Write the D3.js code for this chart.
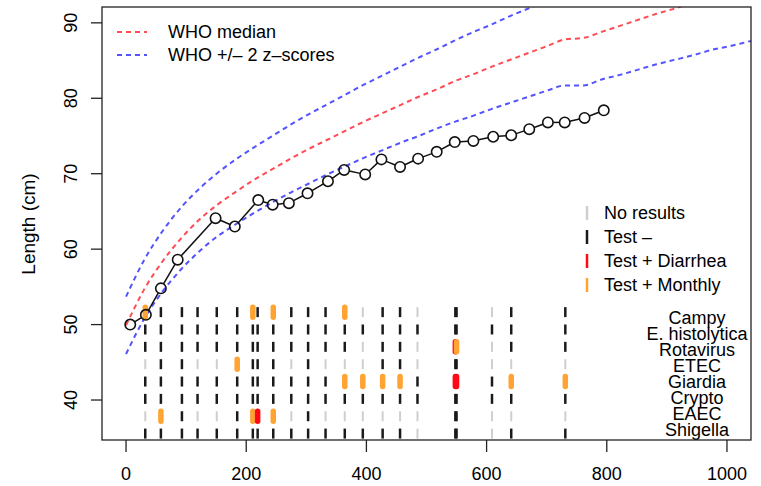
<!DOCTYPE html>
<html>
<head>
<meta charset="utf-8">
<script src="https://cdn.jsdelivr.net/npm/d3@7"></script>
<style>
body{margin:0;background:#fff}
text{font-family:"Liberation Sans",Arial,Helvetica,sans-serif;fill:#000}
</style>
</head>
<body>
<div id="stage"></div>
<script>

// child's length measurements (age in days, length in cm)
var childDays=[7,33,58,86,149,181,220,244,271,302,336,363,398,425,456,486,517,547,578,611,641,671,702,730,763,795];
var childLength=[50.0,51.3,54.8,58.6,64.1,63.0,66.5,65.9,66.1,67.4,69.0,70.5,69.9,71.9,70.9,72.0,72.9,74.2,74.35,74.9,75.1,75.9,76.8,76.8,77.4,78.4];

// WHO length/height-for-age, by month
var whoMonths=d3.range(0,37);
var whoMedian=[49.9,54.7,58.4,61.4,63.9,65.9,67.6,69.2,70.6,72.0,73.3,74.5,75.7,76.9,78.0,79.1,80.2,81.2,82.3,83.2,84.2,85.1,86.0,86.9,87.8,88.0,88.8,89.6,90.4,91.2,91.9,92.7,93.4,94.1,94.8,95.4,96.1];
var whoLower=[46.1,50.8,54.4,57.3,59.7,61.7,63.3,64.8,66.2,67.5,68.7,69.9,71.0,72.1,73.1,74.1,75.0,76.0,76.9,77.7,78.6,79.4,80.2,81.0,81.7,81.7,82.5,83.1,83.8,84.5,85.1,85.7,86.4,86.9,87.5,88.1,88.7];
var whoUpper=[53.7,58.6,62.4,65.5,68.0,70.1,71.9,73.5,75.0,76.5,77.9,79.2,80.5,81.8,83.0,84.2,85.4,86.5,87.7,88.8,89.8,90.9,91.9,92.9,93.9];

// stool tests: day of each test, and result per pathogen
// 0 = no results, 1 = test -, 2 = test + diarrhea, 3 = test + monthly
var testDays=[32,58,93,119,151,185,211,219,245,275,303,332,364,394,427,456,485,548,550,609,641,731];
var pathogens=["Campy","E. histolytica","Rotavirus","ETEC","Giardia","Crypto","EAEC","Shigella"];
var results={
  "Campy":          [3,1,1,1,1,1,3,1,3,1,1,1,3,0,1,1,0,1,1,0,1,1],
  "E. histolytica": [1,1,1,1,1,1,1,1,1,1,1,1,1,1,1,1,1,1,1,1,1,1],
  "Rotavirus":      [1,1,1,1,1,1,1,1,1,1,1,1,1,0,1,1,0,2,3,0,1,1],
  "ETEC":           [0,1,1,0,0,3,1,1,1,0,1,0,0,0,1,1,0,1,1,0,0,0],
  "Giardia":        [1,1,1,1,1,1,1,1,1,1,1,1,3,3,3,3,1,2,2,1,3,3],
  "Crypto":         [1,1,1,1,1,1,1,1,1,1,1,1,1,1,1,1,1,1,1,1,1,1],
  "EAEC":           [0,3,1,0,0,1,3,2,3,0,1,0,0,0,0,0,0,1,1,0,0,0],
  "Shigella":       [1,1,1,1,1,1,1,1,1,1,1,1,1,1,1,1,0,1,1,0,1,1]
};
var resultLabels=["No results","Test \u2013","Test + Diarrhea","Test + Monthly"];
var resultColours=["#cfcfcf","#1a1a1a","#ff0a14","#ffa333"];

var xTicks=[0,200,400,600,800,1000];
var yTicks=[40,50,60,70,80,90];

var W=761,H=486;
var svg=d3.select("#stage").append("svg").attr("width",W).attr("height",H);

var x=d3.scaleLinear().domain([-40,1040]).range([102,751]);
var y=d3.scaleLinear().domain([34.7,92.1]).range([440,7]);

svg.append("clipPath").attr("id","plotclip").append("rect")
  .attr("x",102).attr("y",7).attr("width",649).attr("height",433);

// WHO curves
var daysPerMonth=30.4375;
function who(vals){ return vals.map(function(v,i){ return [whoMonths[i]*daysPerMonth, v]; }); }
var whoLine=d3.line().x(function(d){return x(d[0]);}).y(function(d){return y(d[1]);}).curve(d3.curveMonotoneX);

var curves=[
  {vals:whoUpper, col:"rgba(40,40,255,0.8)"},
  {vals:whoLower, col:"rgba(40,40,255,0.8)"},
  {vals:whoMedian, col:"rgba(255,30,40,0.8)"}
];
var cg=svg.append("g").attr("clip-path","url(#plotclip)");
curves.forEach(function(c){
  cg.append("path").attr("d",whoLine(who(c.vals)))
    .attr("fill","none").attr("stroke",c.col).attr("stroke-width",2)
    .attr("stroke-dasharray","5,4");
});

// test result marks
var rowY=d3.scalePoint().domain(pathogens).range([y(51.65),y(35.55)]);
var marks=[];
pathogens.forEach(function(p){
  results[p].forEach(function(r,i){ marks.push({p:p, day:testDays[i], r:r}); });
});
// draw greys first, then negatives, then positives on top
marks.sort(function(a,b){ return (a.r>1?2:a.r)-(b.r>1?2:b.r); });
svg.append("g").selectAll("line").data(marks).enter().append("line")
  .attr("x1",function(d){return x(d.day);}).attr("x2",function(d){return x(d.day);})
  .attr("y1",function(d){return rowY(d.p)-(d.r>1?5:5);})
  .attr("y2",function(d){return rowY(d.p)+(d.r>1?5:5);})
  .attr("stroke",function(d){return resultColours[d.r];})
  .attr("stroke-width",function(d){return d.r>1?5.5:(d.r==1?2.5:2);})
  .attr("stroke-linecap",function(d){return d.r>1?"round":"butt";});

// pathogen labels
var labY=d3.scalePoint().domain(pathogens).range([y(50.88),y(36.15)]);
svg.append("g").selectAll("text").data(pathogens).enter().append("text")
  .attr("x",x(950)).attr("y",function(d){return labY(d);}).attr("dy","0.36em")
  .attr("text-anchor","middle").style("font-size","18px").text(function(d){return d;});

// child growth, type "b": segments stop short of the circles
var pts=childDays.map(function(d,i){ return [x(d), y(childLength[i])]; });
var rad=5.2;
var segs=[];
for(var i=1;i<pts.length;i++){
  var a=pts[i-1], b=pts[i], dx=b[0]-a[0], dy=b[1]-a[1], len=Math.sqrt(dx*dx+dy*dy);
  if(len>2*rad){
    var ux=dx/len, uy=dy/len;
    segs.push([a[0]+ux*rad, a[1]+uy*rad, b[0]-ux*rad, b[1]-uy*rad]);
  }
}
svg.append("g").selectAll("line").data(segs).enter().append("line")
  .attr("x1",function(d){return d[0];}).attr("y1",function(d){return d[1];})
  .attr("x2",function(d){return d[2];}).attr("y2",function(d){return d[3];})
  .attr("stroke","#111").attr("stroke-width",1.5);
svg.append("g").selectAll("circle").data(pts).enter().append("circle")
  .attr("cx",function(d){return d[0];}).attr("cy",function(d){return d[1];})
  .attr("r",rad).attr("fill","none").attr("stroke","#111").attr("stroke-width",1.6);

// box + axes
svg.append("rect").attr("x",102).attr("y",7).attr("width",649).attr("height",433)
  .attr("fill","none").attr("stroke","#222").attr("stroke-width",1.3);

var xa=svg.append("g");
xTicks.forEach(function(t){
  xa.append("line").attr("x1",x(t)).attr("x2",x(t)).attr("y1",440).attr("y2",452)
    .attr("stroke","#222").attr("stroke-width",1.3);
  xa.append("text").attr("x",x(t)).attr("y",474).attr("dy","0.36em")
    .attr("text-anchor","middle").style("font-size","18px").text(t);
});
var ya=svg.append("g");
yTicks.forEach(function(t){
  ya.append("line").attr("x1",91).attr("x2",102).attr("y1",y(t)).attr("y2",y(t))
    .attr("stroke","#222").attr("stroke-width",1.3);
  ya.append("text").attr("transform","translate(71,"+y(t)+") rotate(-90)")
    .attr("dy","0.36em").attr("text-anchor","middle").style("font-size","18px").text(t);
});
svg.append("text").attr("transform","translate(28,224) rotate(-90)")
  .attr("dy","0.36em").attr("text-anchor","middle").style("font-size","19px").text("Length (cm)");

// legend top left
var lg=svg.append("g");
[["WHO median","rgba(255,30,40,0.8)"],["WHO +/\u2013 2 z\u2013scores","rgba(40,40,255,0.8)"]].forEach(function(d,i){
  var ly=32+i*23;
  lg.append("line").attr("x1",117).attr("x2",147).attr("y1",ly).attr("y2",ly)
    .attr("stroke",d[1]).attr("stroke-width",2).attr("stroke-dasharray","5,4");
  lg.append("text").attr("x",168).attr("y",ly).attr("dy","0.36em").style("font-size","18px").text(d[0]);
});

// legend right
var rg=svg.append("g");
resultLabels.forEach(function(l,i){
  var ly=213+i*24;
  rg.append("line").attr("x1",587).attr("x2",587).attr("y1",ly-7).attr("y2",ly+7)
    .attr("stroke",resultColours[i]).attr("stroke-width",2.5);
  rg.append("text").attr("x",604).attr("y",ly).attr("dy","0.36em").style("font-size","18px").text(l);
});

</script>
</body>
</html>
